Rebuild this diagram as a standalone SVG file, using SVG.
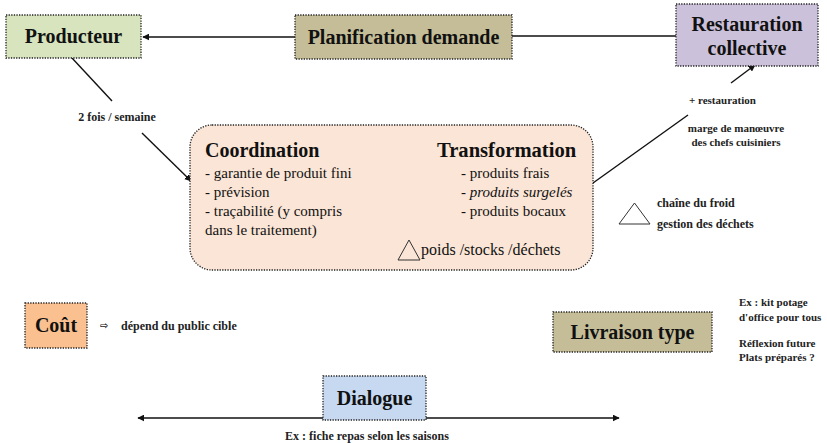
<svg xmlns="http://www.w3.org/2000/svg" width="827" height="443" viewBox="0 0 827 443">
<style>
.box{stroke:#222;stroke-width:1.3;stroke-dasharray:1.3 1.3}
.t{font-family:"Liberation Serif",serif;fill:#111}
.h{font-weight:bold;font-size:20px}
.s{font-size:12px;font-weight:bold;fill:#222}
.b{font-size:15px}
.ln{stroke:#111;stroke-width:1.4;fill:none}
</style>
<defs>
<marker id="ah" viewBox="0 0 10 10" refX="9" refY="5" markerWidth="7" markerHeight="7" markerUnits="userSpaceOnUse" orient="auto-start-reverse">
<path d="M0,0 L10,5 L0,10 z" fill="#111"/>
</marker>
</defs>
<rect width="827" height="443" fill="#fff"/>
<g id="connectors">
<line class="ln" x1="295" y1="37" x2="143" y2="37" marker-end="url(#ah)"/>
<line class="ln" x1="512" y1="36" x2="676" y2="36"/>
<line class="ln" x1="72" y1="58" x2="112" y2="101"/>
<line class="ln" x1="142" y1="133" x2="191" y2="181" marker-end="url(#ah)"/>
<line class="ln" x1="593" y1="183" x2="688" y2="115"/>
<line class="ln" x1="731" y1="83" x2="755" y2="65" marker-end="url(#ah)"/>
<line class="ln" x1="138" y1="418" x2="323" y2="418" marker-start="url(#ah)"/>
<line class="ln" x1="426" y1="418" x2="619" y2="418" marker-end="url(#ah)"/>
</g>
<g id="producteur">
<rect class="box" x="6" y="15" width="135" height="43" fill="#d7e4bd"/>
<text class="t h" x="73.5" y="43" text-anchor="middle">Producteur</text>
</g>
<g id="planification">
<rect class="box" x="295" y="15" width="217" height="44" fill="#c4bd97"/>
<text class="t h" x="403.5" y="44" text-anchor="middle">Planification demande</text>
</g>
<g id="restauration">
<rect class="box" x="676" y="4" width="142" height="62" fill="#ccc1da"/>
<text class="t h" x="747" y="31" text-anchor="middle">Restauration</text>
<text class="t h" x="747" y="55" text-anchor="middle">collective</text>
</g>
<g id="label-frequence">
<text class="t s" x="117" y="121" text-anchor="middle">2 fois / semaine</text>
</g>
<g id="label-restauration">
<text class="t s" x="689" y="104" style="font-size:11px">+ restauration</text>
<text class="t s" x="736" y="132" text-anchor="middle" style="font-size:11px">marge de manœuvre</text>
<text class="t s" x="736" y="146" text-anchor="middle" style="font-size:11px">des chefs cuisiniers</text>
</g>
<g id="coordination-transformation">
<rect class="box" x="190" y="125" width="403" height="145" rx="22" fill="#fbe5d6"/>
<text class="t h" x="205" y="157">Coordination</text>
<text class="t b" x="205" y="178">- garantie de produit fini</text>
<text class="t b" x="205" y="197">- prévision</text>
<text class="t b" x="205" y="216">- traçabilité (y compris</text>
<text class="t b" x="205" y="235">dans le traitement)</text>
<text class="t h" x="437" y="157" style="font-size:20.6px">Transformation</text>
<text class="t b" x="461" y="178">- produits frais</text>
<text class="t b" x="461" y="197"><tspan>- </tspan><tspan font-style="italic">produits surgelés</tspan></text>
<text class="t b" x="461" y="216">- produits bocaux</text>
<path d="M398,260 L420,260 L409,240 z" fill="none" stroke="#333" stroke-width="1"/>
<text class="t b" x="421" y="255" style="font-size:16px">poids /stocks /déchets</text>
</g>
<g id="froid">
<path d="M619,224 L650,224 L634.5,203 z" fill="none" stroke="#333" stroke-width="1"/>
<text class="t s" x="657" y="207">chaîne du froid</text>
<text class="t s" x="657" y="228">gestion des déchets</text>
</g>
<g id="cout">
<rect class="box" x="25" y="303" width="62" height="45" fill="#fac090"/>
<text class="t h" x="56" y="332" text-anchor="middle">Coût</text>
<text class="t s" x="100" y="329" style="font-family:'DejaVu Sans',sans-serif;font-size:10px">⇨</text>
<text class="t s" x="121" y="330">dépend du public cible</text>
</g>
<g id="livraison">
<rect class="box" x="553" y="312" width="159" height="40" fill="#c4bd97"/>
<text class="t h" x="632.5" y="339" text-anchor="middle">Livraison type</text>
<text class="t s" x="739" y="306" style="font-size:11px">Ex : kit potage</text>
<text class="t s" x="739" y="321" style="font-size:11px">d'office pour tous</text>
<text class="t s" x="739" y="347" style="font-size:11px">Réflexion future</text>
<text class="t s" x="739" y="361" style="font-size:11px">Plats préparés ?</text>
</g>
<g id="dialogue">
<rect class="box" x="323" y="376" width="103" height="44" fill="#c6d9f1"/>
<text class="t h" x="374.5" y="405" text-anchor="middle">Dialogue</text>
<text class="t s" x="367" y="440" text-anchor="middle">Ex : fiche repas selon les saisons</text>
</g>
</svg>
